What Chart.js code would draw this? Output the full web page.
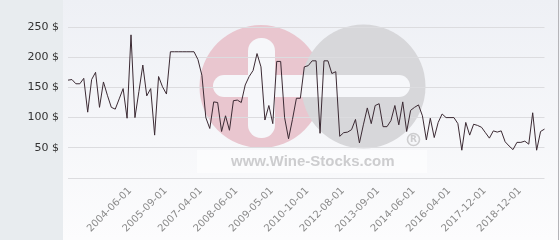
<!DOCTYPE html>
<html>
<head>
<meta charset="utf-8">
<script src="https://cdn.jsdelivr.net/npm/chart.js@4.4.1/dist/chart.umd.min.js"></script>
<style>
    body { margin: 0; background: #ffffff; }
    canvas { display: block; }
</style>
</head>
<body>
<canvas id="price-chart" width="560" height="240"></canvas>
<script>
const prices = [
    162, 163, 156, 156, 165, 109, 163, 175, 117, 159,
    137, 117, 114, 131, 148, 99, 237, 100, 143, 187,
    136, 148, 71, 168, 151, 139, 209, 209, 209, 209,
    209, 209, 209, 196, 170, 100, 82, 126, 125, 77,
    103, 79, 128, 129, 125, 154, 168, 178, 206, 184,
    96, 120, 90, 193, 193, 100, 65, 97, 132, 132,
    184, 186, 194, 194, 74, 194, 194, 173, 176, 69,
    75, 76, 80, 97, 58, 88, 116, 90, 120, 123,
    85, 85, 95, 120, 88, 126, 77, 112, 117, 121,
    103, 63, 99, 67, 92, 106, 100, 100, 100, 90,
    46, 92, 71, 89, 87, 84, 75, 66, 78, 76,
    78, 60, 53, 47, 59, 59, 61, 56, 108, 46,
    77, 81
];
const tickLabels = ['2004-06-01', '2005-09-01', '2007-04-01', '2008-06-01', '2009-05-01', '2010-10-01',
    '2012-08-01', '2013-09-01', '2014-06-01', '2016-04-01', '2017-12-01', '2018-12-01'];
const tickIndex = [14, 23, 32, 41, 50, 59, 68, 77, 86, 95, 104, 113];
const yTicks = [0, 50, 100, 150, 200, 250];

// one category per price, only some of them carry a date
const categories = prices.map((p, i) => {
    const k = tickIndex.indexOf(i);
    return k >= 0 ? tickLabels[k] : '';
});

function roundRect(ctx, x, y, w, h, r) {
    ctx.beginPath();
    ctx.moveTo(x + r, y);
    ctx.arcTo(x + w, y, x + w, y + h, r);
    ctx.arcTo(x + w, y + h, x, y + h, r);
    ctx.arcTo(x, y + h, x, y, r);
    ctx.arcTo(x, y, x + w, y, r);
    ctx.closePath();
    ctx.fill();
}

const backdrop = {
    id: 'backdrop',
    beforeDraw(chart) {
        const ctx = chart.ctx;
        ctx.save();
        // left panel
        ctx.fillStyle = '#e8ecef';
        ctx.fillRect(0, 0, 63, 240);
        // plot background
        const grad = ctx.createLinearGradient(0, 0, 0, 240);
        grad.addColorStop(0, '#eef0f5');
        grad.addColorStop(1, '#fcfcfd');
        ctx.fillStyle = grad;
        ctx.fillRect(63, 0, 497, 240);

        // watermark
        ctx.fillStyle = '#e9c6cf';
        ctx.beginPath();
        ctx.arc(261, 86.5, 61.5, 0, Math.PI * 2);
        ctx.fill();
        ctx.fillStyle = '#d7d7da';
        ctx.beginPath();
        ctx.arc(363.5, 86.5, 62, 0, Math.PI * 2);
        ctx.fill();
        ctx.fillStyle = '#f6f7fa';
        roundRect(ctx, 248, 38, 27, 100, 13);
        roundRect(ctx, 213, 75, 197, 22, 11);

        ctx.fillStyle = 'rgba(255,255,255,0.55)';
        ctx.fillRect(197, 150, 230, 23);
        ctx.fillStyle = '#cdcdcf';
        ctx.font = 'bold 15px "Liberation Sans"';
        ctx.textAlign = 'left';
        ctx.textBaseline = 'alphabetic';
        ctx.fillText('www.Wine-Stocks.com', 231, 166);

        ctx.strokeStyle = '#cdcdcf';
        ctx.lineWidth = 1.6;
        ctx.beginPath();
        ctx.arc(413.5, 139.5, 6, 0, Math.PI * 2);
        ctx.stroke();
        ctx.font = 'bold 9px "DejaVu Sans"';
        ctx.textAlign = 'center';
        ctx.textBaseline = 'middle';
        ctx.fillText('R', 413.5, 140);

        // right border
        ctx.strokeStyle = '#b4b4b8';
        ctx.lineWidth = 1;
        ctx.beginPath();
        ctx.moveTo(558.5, 0);
        ctx.lineTo(558.5, 240);
        ctx.stroke();
        ctx.restore();
    }
};

const ctx = document.getElementById('price-chart').getContext('2d');
new Chart(ctx, {
    type: 'line',
    data: {
        labels: categories,
        datasets: [{
            label: 'Prix',
            data: prices,
            borderColor: '#3b2a33',
            borderWidth: 1,
            pointRadius: 0,
            tension: 0,
            fill: false
        }]
    },
    options: {
        responsive: false,
        animation: false,
        layout: {
            padding: { left: 0, top: 27, right: 6, bottom: 0 }
        },
        plugins: {
            legend: { display: false },
            tooltip: { enabled: false }
        },
        scales: {
            x: {
                grid: { display: false, drawTicks: false },
                border: { display: false },
                ticks: {
                    autoSkip: false,
                    minRotation: 45,
                    maxRotation: 45,
                    padding: 7,
                    labelOffset: 7,
                    color: '#8a8a8a',
                    font: { family: 'DejaVu Sans', size: 10 }
                },
                afterFit: function(scale) {
                    scale.height = 62;
                }
            },
            y: {
                min: yTicks[0],
                max: yTicks[yTicks.length - 1],
                afterBuildTicks: function(scale) {
                    scale.ticks = yTicks.map(v => ({ value: v }));
                },
                grid: { color: '#dcdcdf', drawTicks: false },
                border: { display: false },
                ticks: {
                    padding: 9,
                    color: '#333333',
                    font: { family: 'DejaVu Sans', size: 11 },
                    callback: function(value) {
                        return value === 0 ? '' : value + ' $';
                    }
                },
                afterFit: function(scale) {
                    scale.width = 68;
                }
            }
        }
    },
    plugins: [backdrop]
});
</script>
</body>
</html>
